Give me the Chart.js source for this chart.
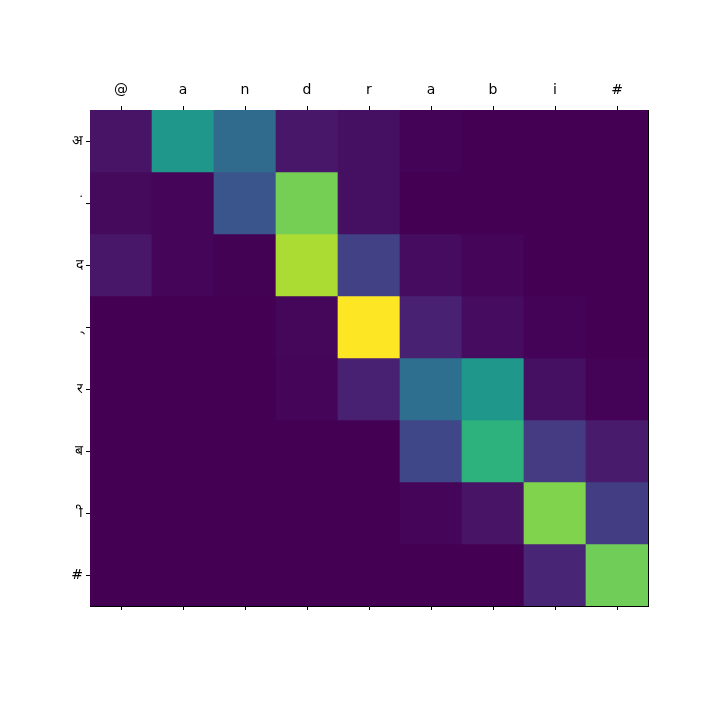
<!DOCTYPE html>
<html lang="en">
<head>
  <meta charset="UTF-8" />
  <title>Attention</title>
  <script src="https://cdn.jsdelivr.net/npm/chart.js@4.4.0/dist/chart.umd.min.js"></script>
  <style>
    body {
      margin: 0;
      background: #ffffff;
    }
  </style>
</head>
<body>
  <canvas id="myChart" width="720" height="720"></canvas>
  <script>
    // input characters (columns) and output characters (rows)
    const inputChars = ["@", "a", "n", "d", "r", "a", "b", "i", "#"];
    // lone vowel signs sit on a no-break space so no dotted circle shows
    const outputChars = ["अ", "\u00a0ं", "द", "\u00a0्", "र", "ब", "\u00a0ी", "#"];

    // attention weights, one array per output row
    const row0 = [0.05, 0.53, 0.345, 0.06, 0.04, 0.005, 0.0, 0.0, 0.0];
    const row1 = [0.025, 0.01, 0.26, 0.79, 0.04, 0.0, 0.0, 0.0, 0.0];
    const row2 = [0.06, 0.01, 0.003, 0.875, 0.19, 0.03, 0.01, 0.0, 0.0];
    const row3 = [0.0, 0.0, 0.0, 0.015, 1.0, 0.09, 0.03, 0.005, 0.0];
    const row4 = [0.0, 0.0, 0.0, 0.01, 0.09, 0.36, 0.53, 0.04, 0.005];
    const row5 = [0.0, 0.0, 0.0, 0.0, 0.0, 0.21, 0.64, 0.17, 0.07];
    const row6 = [0.0, 0.0, 0.0, 0.0, 0.0, 0.01, 0.05, 0.81, 0.18];
    const row7 = [0.0, 0.0, 0.0, 0.0, 0.0, 0.0, 0.0, 0.1, 0.78];
    const weights = [row0, row1, row2, row3, row4, row5, row6, row7];

    const viridis = ["#440154", "#481a6c", "#472f7d", "#414487", "#39568c", "#31688e",
      "#2a788e", "#23888e", "#1f988b", "#22a884", "#35b779", "#54c568",
      "#7ad151", "#a5db36", "#d2e21b", "#fde725"];

    function hex(c) {
      return [parseInt(c.slice(1, 3), 16), parseInt(c.slice(3, 5), 16), parseInt(c.slice(5, 7), 16)];
    }

    let lo = Math.min(...weights.flat());
    let hi = Math.max(...weights.flat());

    function colorFor(v) {
      let t = (v - lo) / (hi - lo);
      let pos = t * (viridis.length - 1);
      let i = Math.min(Math.floor(pos), viridis.length - 2);
      let f = pos - i;
      let a = hex(viridis[i]), b = hex(viridis[i + 1]);
      let rgb = a.map((x, k) => Math.round(x + (b[k] - x) * f));
      return "rgb(" + rgb.join(",") + ")";
    }

    let datasets = weights.map((row, r) => ({
      label: outputChars[r],
      data: row.map(() => [r, r + 1]),
      backgroundColor: row.map(colorFor),
      borderWidth: 0,
      barPercentage: 1.0,
      categoryPercentage: 1.0,
      grouped: false,
      xAxisID: "x",
      yAxisID: "y"
    }));

    const font = { family: "DejaVu Sans", size: 14 };

    var ctx = document.getElementById("myChart").getContext("2d");
    var myChart = new Chart(ctx, {
      type: "bar",
      data: {
        labels: inputChars,
        datasets: datasets
      },
      options: {
        responsive: false,
        animation: false,
        layout: { padding: 0 },
        plugins: {
          legend: { display: false },
          tooltip: { enabled: false }
        },
        scales: {
          x: {
            position: "top",
            offset: true,
            grid: { offset: false, drawOnChartArea: false, tickLength: 4, color: "#000" },
            border: { display: true, color: "#000", width: 1 },
            ticks: { color: "#000", font: font, padding: 7, maxRotation: 0 },
            afterFit: (s) => { s.height = 110; }
          },
          x2: {
            position: "bottom",
            type: "category",
            offset: true,
            grid: { offset: false, drawOnChartArea: false, tickLength: 4, color: "#000" },
            border: { display: true, color: "#000", width: 1 },
            ticks: { display: false },
            afterFit: (s) => { s.height = 114; }
          },
          y: {
            position: "left",
            type: "linear",
            min: 0,
            max: 8,
            reverse: true,
            grid: { drawOnChartArea: false, tickLength: 4, color: "#000" },
            border: { display: true, color: "#000", width: 1 },
            afterBuildTicks: (s) => { s.ticks = outputChars.map((_, i) => ({ value: i + 0.5 })); },
            ticks: {
              color: "#000",
              font: font,
              padding: 3,
              callback: (value, index) => outputChars[index]
            },
            afterFit: (s) => { s.width = 90; }
          },
          y2: {
            position: "right",
            type: "linear",
            min: 0,
            max: 8,
            grid: { display: false },
            border: { display: true, color: "#000", width: 1 },
            ticks: { display: false },
            afterFit: (s) => { s.width = 72; }
          }
        }
      }
    });
  </script>
</body>
</html>
